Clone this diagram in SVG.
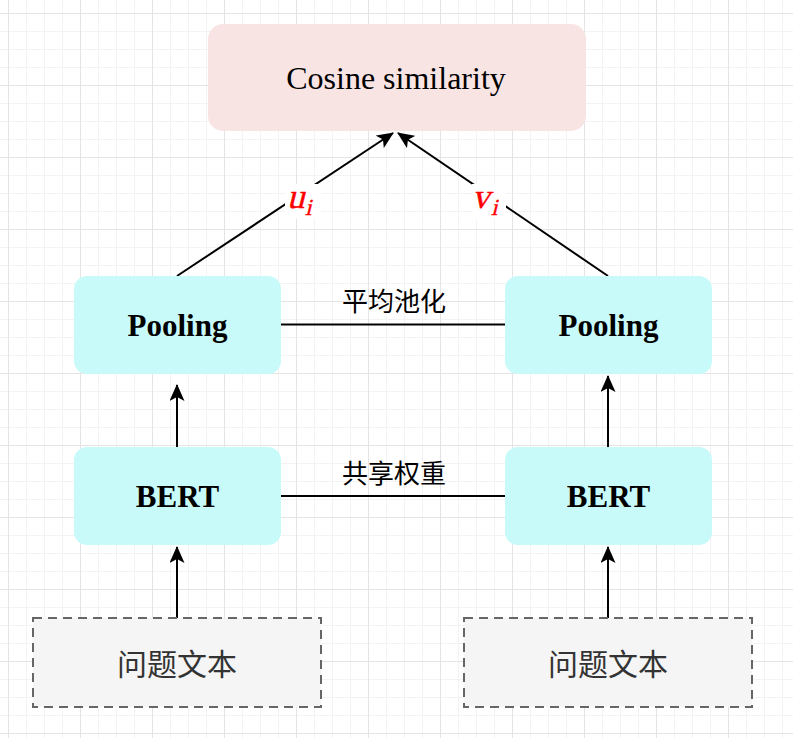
<svg xmlns="http://www.w3.org/2000/svg" width="793" height="738" viewBox="0 0 793 738">
<style>
.grn{fill:#c8fafa}
.lbl{font-family:"Liberation Serif",serif;fill:#000;text-anchor:middle}
.bold{font-weight:bold;font-size:31px}
.cjk{font-family:"Liberation Serif","Noto Sans CJK SC",serif;text-anchor:middle}
.edge{stroke:#000;stroke-width:2;fill:none}
.math{font-family:"Liberation Serif",serif;font-style:normal;fill:#ff0000;stroke:#ff0000;stroke-width:0.4}
</style>
<defs>
<pattern id="grid" patternUnits="userSpaceOnUse" x="8" y="13" width="72" height="72">
<rect x="0" y="0" width="72" height="72" fill="#ffffff"/>
<g fill="#f3f3f3">
<rect x="18" y="0" width="1" height="72"/><rect x="36" y="0" width="1" height="72"/><rect x="54" y="0" width="1" height="72"/>
<rect x="0" y="18" width="72" height="1"/><rect x="0" y="36" width="72" height="1"/><rect x="0" y="54" width="72" height="1"/>
</g>
<g fill="#e4e4e4">
<rect x="0" y="0" width="1" height="72"/><rect x="0" y="0" width="72" height="1"/>
</g>
</pattern>
<marker id="arr" markerUnits="userSpaceOnUse" markerWidth="17" markerHeight="15" refX="16" refY="7.5" orient="auto" viewBox="0 0 17 15">
<path d="M17,7.5 L0,0 L4,7.5 L0,15 Z" fill="#000"/>
</marker>
</defs>
<rect x="0" y="0" width="793" height="738" fill="url(#grid)"/>

<g id="edges">
<line class="edge" x1="177" y1="618" x2="177" y2="547" marker-end="url(#arr)"/>
<line class="edge" x1="608" y1="618" x2="608" y2="547" marker-end="url(#arr)"/>
<line class="edge" x1="177" y1="447" x2="177" y2="385" marker-end="url(#arr)"/>
<line class="edge" x1="608" y1="447" x2="608" y2="376" marker-end="url(#arr)"/>
<line class="edge" x1="177" y1="276" x2="393" y2="133" marker-end="url(#arr)"/>
<line class="edge" x1="608" y1="276" x2="398" y2="133" marker-end="url(#arr)"/>
<line class="edge" x1="281" y1="324.5" x2="505" y2="324.5"/>
<line class="edge" x1="281" y1="496" x2="505" y2="496"/>
<rect x="285" y="184" width="36" height="35" fill="#ffffff"/>
<text class="math" font-size="35" transform="translate(287,208) skewX(-14)">u</text>
<text class="math" font-size="23" transform="translate(305,215) skewX(-14)">i</text>
<rect x="472" y="184" width="34" height="35" fill="#ffffff"/>
<text class="math" font-size="35" transform="translate(472,208) skewX(-14)">v</text>
<text class="math" font-size="23" transform="translate(491,215) skewX(-14)">i</text>
<text class="cjk" x="394" y="311" font-size="26">平均池化</text>
<text class="cjk" x="394" y="483" font-size="26">共享权重</text>
</g>

<g id="cosine">
<rect x="208" y="24" width="378" height="107" rx="15" fill="#f9e4e4"/>
<text class="lbl" x="396" y="89" font-size="32">Cosine similarity</text>
</g>
<g id="pooling-left">
<rect class="grn" x="74" y="276" width="207" height="98" rx="13"/>
<text class="lbl bold" x="177.5" y="336">Pooling</text>
</g>
<g id="pooling-right">
<rect class="grn" x="505" y="276" width="207" height="98" rx="13"/>
<text class="lbl bold" x="608.5" y="336">Pooling</text>
</g>
<g id="bert-left">
<rect class="grn" x="74" y="447" width="207" height="98" rx="13"/>
<text class="lbl bold" x="177.5" y="507">BERT</text>
</g>
<g id="bert-right">
<rect class="grn" x="505" y="447" width="207" height="98" rx="13"/>
<text class="lbl bold" x="608.5" y="507">BERT</text>
</g>
<g id="text-left">
<rect x="33" y="618" width="288" height="89" fill="#f5f5f5" stroke="#666666" stroke-width="2" stroke-dasharray="9 6"/>
<text class="cjk" x="177" y="675" font-size="30" fill="#333333">问题文本</text>
</g>
<g id="text-right">
<rect x="464" y="618" width="288" height="89" fill="#f5f5f5" stroke="#666666" stroke-width="2" stroke-dasharray="9 6"/>
<text class="cjk" x="608" y="675" font-size="30" fill="#333333">问题文本</text>
</g>
</svg>
